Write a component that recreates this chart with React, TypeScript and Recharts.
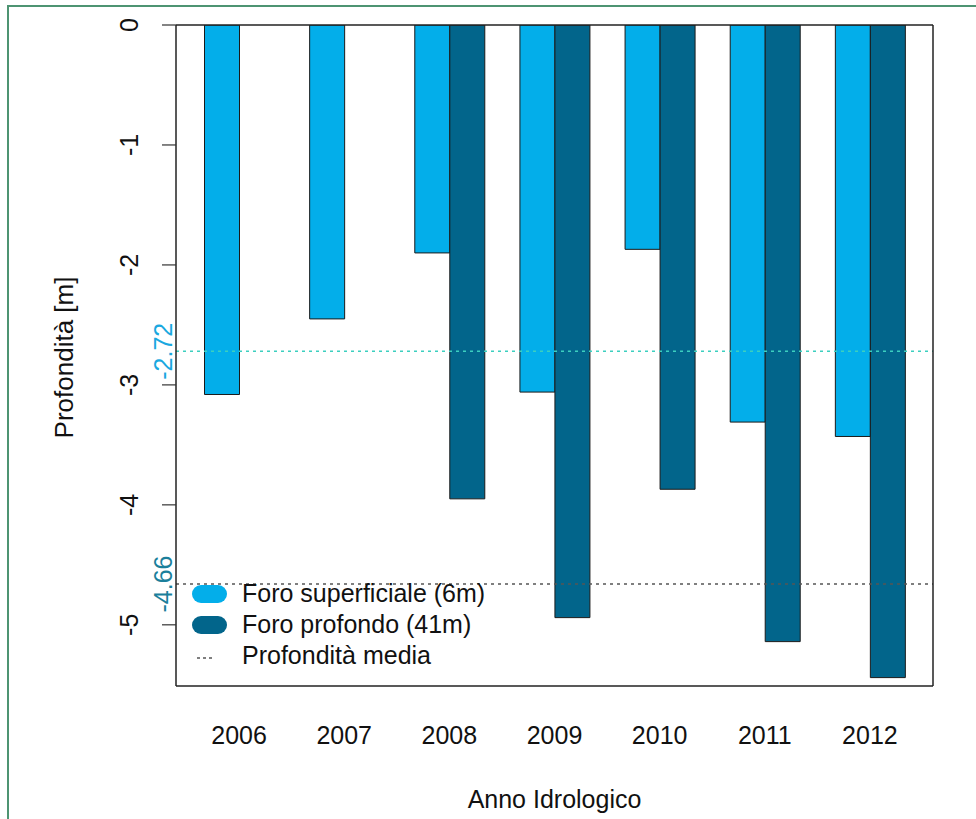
import React from 'react';
import { BarChart, Bar, XAxis, YAxis, ReferenceLine, Legend } from 'recharts';

const years = ['2006', '2007', '2008', '2009', '2010', '2011', '2012'];
const shallow = [-3.08, -2.45, -1.9, -3.06, -1.87, -3.31, -3.43];
const deep: (number | null)[] = [null, null, -3.95, -4.94, -3.87, -5.14, -5.44];
const meanShallow = -2.72;
const meanDeep = -4.66;
const yTicks = [0, -1, -2, -3, -4, -5];
const yDomain = [-5.51, 0];
const legendNames = ['Foro superficiale (6m)', 'Foro profondo (41m)', 'Profondità media'];

const LIGHT = '#03AEEA';
const DARK = '#02658B';
const FONT = '"Liberation Sans", Arial, Helvetica, sans-serif';
const BOX = { stroke: '#222', strokeWidth: 1.5 };

const data = years.map((y, i) => ({ year: y, shallow: shallow[i], deep: deep[i] }));

const YTick = (props: any) => {
  const { x, y, payload } = props;
  return (
    <text transform={`translate(${x},${y}) rotate(-90)`} textAnchor="middle" fontSize={25} fontFamily={FONT} fill="#111">
      {String(payload.value)}
    </text>
  );
};

const XTick = (props: any) => {
  const { x, y, payload } = props;
  return (
    <text x={x} y={y} textAnchor="middle" fontSize={25} fontFamily={FONT} fill="#111">
      {payload.value}
    </text>
  );
};

const refLabel = (value: number, color: string) => (props: any) => {
  const vb = props.viewBox || {};
  return (
    <text transform={`translate(${vb.x - 4},${vb.y}) rotate(-90)`} textAnchor="middle" fontSize={25} fontFamily={FONT} fill={color}>
      {value.toFixed(2)}
    </text>
  );
};

const LegendContent = () => (
  <div style={{ fontFamily: FONT, fontSize: 25, color: '#111' }}>
    {legendNames.map((name, i) => (
      <div key={name} style={{ display: 'flex', alignItems: 'center', height: 31 }}>
        <div style={{ width: 35, height: 18, marginRight: 15, position: 'relative' }}>
          {i < 2 ? (
            <div style={{ width: 35, height: 18, borderRadius: 9, background: i === 0 ? LIGHT : DARK }} />
          ) : (
            <svg width={35} height={18} style={{ position: 'absolute', left: 0, top: 0 }}>
              <line x1={5} x2={21} y1={11} y2={11} stroke="#555" strokeWidth={1.5} strokeDasharray="3 3" />
            </svg>
          )}
        </div>
        <span style={{ whiteSpace: 'nowrap', lineHeight: '31px' }}>{name}</span>
      </div>
    ))}
  </div>
);

export default function App() {
  return (
    <div style={{ position: 'absolute', left: 0, top: 0, width: 976, height: 819, background: '#fff', overflow: 'hidden' }}>
      <div style={{ position: 'absolute', left: 7, top: 5, width: 1000, height: 900, borderLeft: '2px solid #4e9472', borderTop: '2px solid #4e9472' }} />
      <div style={{ position: 'absolute', left: 0, top: 0 }}>
        <BarChart width={976} height={819} data={data} margin={{ top: 24, right: 42, bottom: 0, left: 0 }} barSize={35} barGap={0}>
          <XAxis
            dataKey="year"
            height={133}
            axisLine={BOX}
            tickLine={false}
            tickSize={0}
            tickMargin={58}
            padding={{ left: 10.5, right: 10.5 }}
            tick={<XTick />}
            interval={0}
            label={(p: any) => {
              const vb = p.viewBox || {};
              return (
                <text x={vb.x + vb.width / 2} y={808} textAnchor="middle" fontSize={25} fontFamily={FONT} fill="#111">
                  Anno Idrologico
                </text>
              );
            }}
          />
          <XAxis xAxisId="top" dataKey="year" orientation="top" height={1} axisLine={BOX} tick={false} tickLine={false} padding={{ left: 10.5, right: 10.5 }} />
          <YAxis
            type="number"
            domain={yDomain}
            ticks={yTicks}
            width={176}
            axisLine={BOX}
            tickLine={{ stroke: '#333', strokeWidth: 1.2 }}
            tickSize={14}
            tickMargin={24}
            tick={<YTick />}
            allowDataOverflow
            label={(p: any) => {
              const vb = p.viewBox || {};
              return (
                <text transform={`translate(73,${vb.y + vb.height / 2 + 2}) rotate(-90)`} textAnchor="middle" fontSize={26} fontFamily={FONT} fill="#111">
                  Profondità [m]
                </text>
              );
            }}
          />
          <YAxis yAxisId="right" orientation="right" type="number" domain={yDomain} width={1} axisLine={BOX} tick={false} tickLine={false} allowDataOverflow />
          <ReferenceLine y={meanShallow} stroke="#3ccfbf" strokeWidth={1.5} strokeDasharray="3 4" label={refLabel(meanShallow, '#1aa8e0')} ifOverflow="visible" />
          <ReferenceLine y={meanDeep} stroke="#555" strokeWidth={1.5} strokeDasharray="3 4" label={refLabel(meanDeep, '#1b7f9b')} ifOverflow="visible" />
          <Bar dataKey="shallow" name={legendNames[0]} fill={LIGHT} stroke="#1a1a1a" strokeWidth={1} isAnimationActive={false} />
          <Bar dataKey="deep" name={legendNames[1]} fill={DARK} stroke="#1a1a1a" strokeWidth={1} isAnimationActive={false} />
          <Legend
            layout="vertical"
            align="center"
            verticalAlign="middle"
            content={<LegendContent />}
            wrapperStyle={{ position: 'absolute', left: 192, top: 578, width: 320, height: 93 }}
          />
        </BarChart>
      </div>
    </div>
  );
}
